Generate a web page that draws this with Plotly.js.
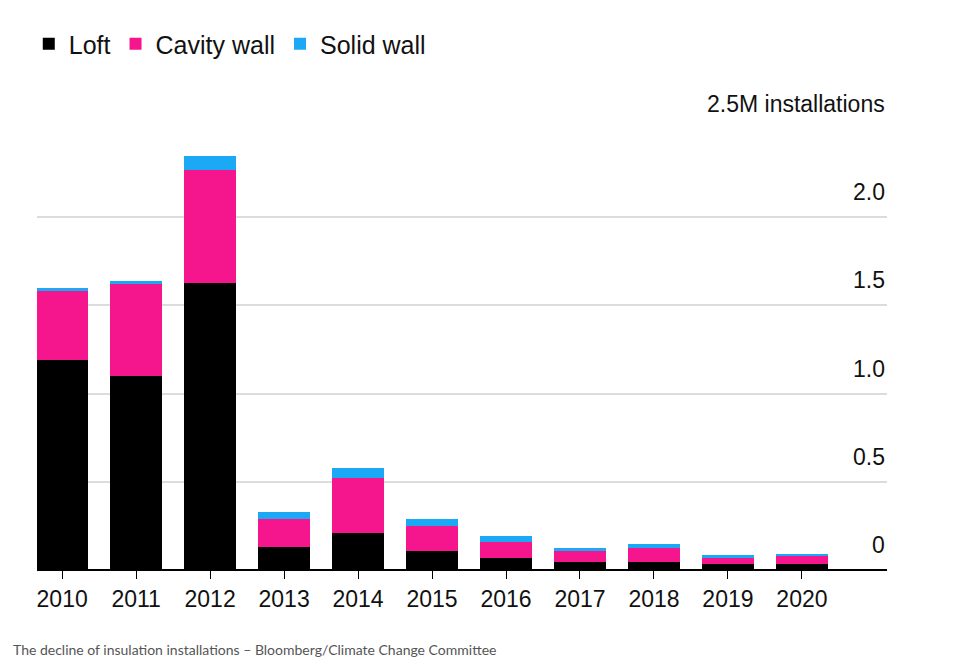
<!DOCTYPE html>
<html>
<head>
<meta charset="utf-8">
<script src="https://cdn.plot.ly/plotly-3.0.1.min.js"></script>
<style>body{margin:0;background:#fff}#chart{width:959px;height:668px}</style>
</head>
<body>
<div id="chart"></div>
<script>
const years = ['2010', '2011', '2012', '2013', '2014', '2015', '2016', '2017', '2018', '2019', '2020'];
const loft = [1.19, 1.10, 1.625, 0.13, 0.21, 0.108, 0.068, 0.045, 0.045, 0.034, 0.034];
const cavity = [0.395, 0.52, 0.642, 0.16, 0.31, 0.142, 0.092, 0.063, 0.08, 0.034, 0.051];
const solid = [0.011, 0.016, 0.08, 0.04, 0.06, 0.04, 0.03, 0.017, 0.023, 0.017, 0.002];
const yTicks = [0, 0.5, 1.0, 1.5, 2.0, 2.5];
const yTickText = ['0', '0.5', '1.0', '1.5', '2.0', '2.5M installations'];

window.onload = () => {
    const xs = years.map((y, i) => i);
    const font = {family: 'Liberation Sans, Arial, sans-serif', color: '#111'};
    const traces = [
        {name: 'Loft', y: loft, color: '#000000'},
        {name: 'Cavity wall', y: cavity, color: '#f5158c'},
        {name: 'Solid wall', y: solid, color: '#1ba9f5'}
    ].map(s => ({
        type: 'bar', x: xs, y: s.y, name: s.name,
        marker: {color: s.color}, hoverinfo: 'x+y'
    }));

    const annotations = yTicks.map((v, i) => ({
        x: 1, xref: 'paper', xanchor: 'right',
        y: v, yref: 'y', yanchor: 'bottom', yshift: 10,
        text: yTickText[i], showarrow: false,
        font: {...font, size: 23}
    }));
    annotations.push({
        x: 8, xref: 'paper', xanchor: 'left',
        y: 20, yref: 'paper', yanchor: 'middle',
        text: 'The decline of insulation installations – Bloomberg/Climate Change Committee',
        showarrow: false, font: {family: 'Lato, sans-serif', size: 14, color: '#555'}
    });
    annotations[annotations.length - 1].xref = 'paper';
    annotations[annotations.length - 1].x = 8 / 959 - 37 / 959;
    annotations[annotations.length - 1].y = -79 / 441;

    const layout = {
        barmode: 'stack',
        bargap: 0.3,
        width: 959, height: 668,
        margin: {l: 37, r: 72, t: 129, b: 98},
        paper_bgcolor: '#fff', plot_bgcolor: '#fff',
        font: font,
        showlegend: true,
        legend: {
            orientation: 'h', xref: 'container', yref: 'container',
            x: 0.03, y: 1 - 44 / 668, xanchor: 'left', yanchor: 'middle',
            font: {...font, size: 25}, traceorder: 'normal', itemwidth: 30
        },
        xaxis: {
            range: [-0.34, 11.15],
            tickvals: xs, ticktext: years,
            tickfont: {...font, size: 23},
            ticks: 'outside', ticklen: 8, tickcolor: '#000',
            showgrid: false, zeroline: false, fixedrange: true
        },
        yaxis: {
            range: [0, 2.5], side: 'right',
            tickvals: yTicks, showticklabels: false,
            showgrid: true, gridcolor: '#dcdcdc', gridwidth: 2,
            zeroline: true, zerolinecolor: '#000', zerolinewidth: 2,
            fixedrange: true
        },
        annotations: annotations
    };
    Plotly.newPlot('chart', traces, layout, {displayModeBar: false});
};
</script>
</body>
</html>
